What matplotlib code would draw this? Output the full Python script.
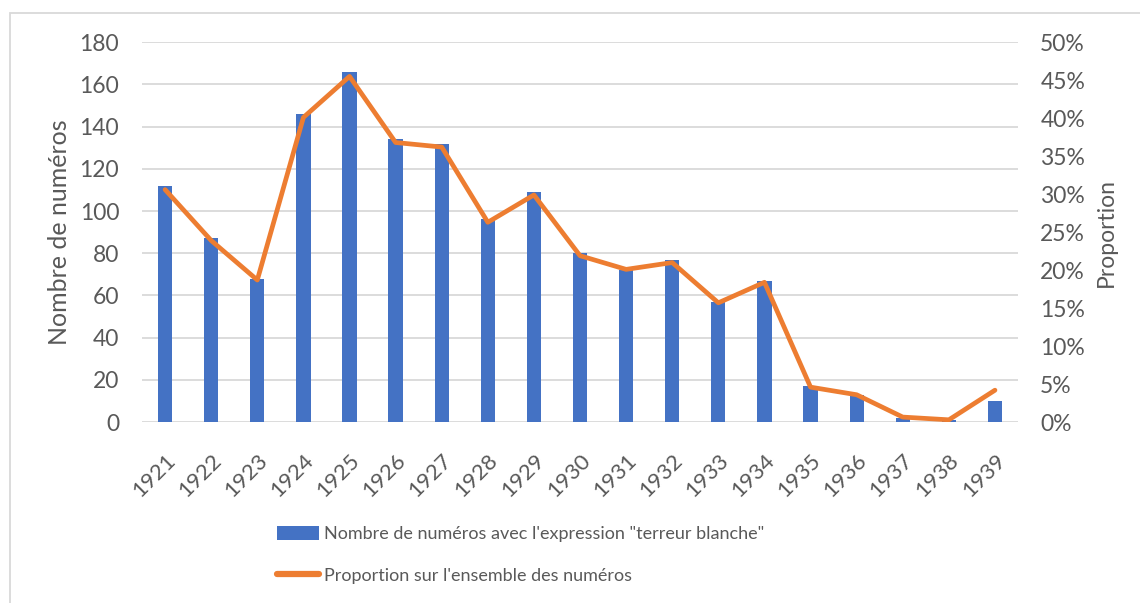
import matplotlib.pyplot as plt
from matplotlib.patches import Rectangle, Patch
from matplotlib.lines import Line2D
from matplotlib.ticker import FuncFormatter

# données
annees = ['1921', '1922', '1923', '1924', '1925', '1926', '1927', '1928', '1929', '1930',
          '1931', '1932', '1933', '1934', '1935', '1936', '1937', '1938', '1939']
nombre = [112, 87, 68, 146, 166, 134, 132, 96, 109, 80,
          72, 77, 57, 67, 17, 13, 2, 1, 10]
proportion = [0.306, 0.239, 0.187, 0.401, 0.455, 0.368, 0.362, 0.263, 0.299, 0.219,
              0.201, 0.210, 0.157, 0.184, 0.046, 0.036, 0.0066, 0.003, 0.042]

label_barres = 'Nombre de numéros avec l\'expression "terreur blanche"'
label_ligne = "Proportion sur l'ensemble des numéros"

bleu = '#4472C4'
orange = '#ED7D31'
gris = '#595959'
grille = '#D9D9D9'

plt.rcParams['font.family'] = ['Lato', 'DejaVu Sans']

fig = plt.figure(figsize=(11.4, 6.03), dpi=100)
ax = fig.add_axes([0.1246, 0.300, 0.7684, 0.630])
ax2 = ax.twinx()

x = range(len(annees))
ax.bar(x, nombre, width=0.31, color=bleu, zorder=2)
ax2.plot(x, proportion, color=orange, linewidth=3.4,
         solid_joinstyle='round', solid_capstyle='round', zorder=3)

ax.set_xlim(-0.5, len(annees) - 0.5)
ax.set_ylim(0, 180)
ax.set_yticks(range(0, 181, 20))
ax2.set_ylim(0, 0.5)
ax2.set_yticks([i * 0.05 for i in range(11)])
ax2.yaxis.set_major_formatter(FuncFormatter(lambda v, p: f'{round(v * 100)}%'))

ax.grid(axis='y', color=grille, linewidth=1.3, zorder=0)
ax.set_axisbelow(True)
for a in (ax, ax2):
    for s in a.spines.values():
        s.set_visible(False)
    a.tick_params(length=0, colors=gris, labelsize=16.5)
ax.tick_params(axis='y', pad=16.5)
ax2.tick_params(axis='y', pad=16)

ax.set_xticks(list(x))
ax.set_xticklabels(annees, rotation=45, ha='right', va='top',
                   rotation_mode='anchor', fontsize=16)
ax.tick_params(axis='x', pad=20)

ax.set_ylabel('Nombre de numéros', color=gris, fontsize=18, labelpad=6)
ax2.set_ylabel('Proportion', color=gris, fontsize=16.5, labelpad=8)

handles = [Patch(facecolor=bleu, edgecolor='none'),
           Line2D([0], [0], color=orange, linewidth=4.5, solid_capstyle='round')]
leg = fig.legend(handles, [label_barres, label_ligne], loc='center left',
                 bbox_to_anchor=(277 / 1140, 48 / 603), frameon=False,
                 fontsize=13, labelcolor=gris, handlelength=2.3,
                 handleheight=0.75, handletextpad=0.3, labelspacing=1.4,
                 borderpad=0, borderaxespad=0)

fig.add_artist(Rectangle((9.5 / 1140, -0.1), 1.2, (603 - 13) / 603 + 0.1,
                         transform=fig.transFigure, fill=False,
                         edgecolor=grille, linewidth=1.3))

fig.savefig('out.png', dpi=100)
